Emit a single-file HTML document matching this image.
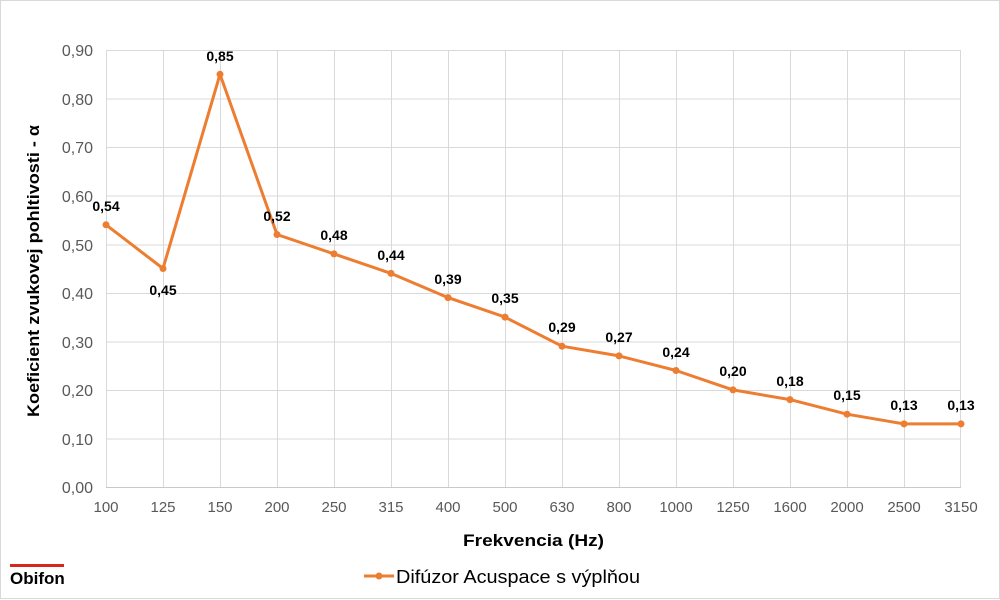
<!DOCTYPE html>
<html><head><meta charset="utf-8"><style>
body{margin:0;background:#fff}
svg{display:block;font-family:"Liberation Sans",Arial,sans-serif}
</style></head><body>
<svg width="1000" height="600" viewBox="0 0 1000 600">
<rect x="0.5" y="0.5" width="999" height="598" fill="#fff" stroke="#d9d9d9"/>
<g stroke="#d9d9d9" stroke-width="1">
<line x1="106" y1="50.5" x2="961" y2="50.5"/>
<line x1="106" y1="99" x2="961" y2="99"/>
<line x1="106" y1="147.5" x2="961" y2="147.5"/>
<line x1="106" y1="196" x2="961" y2="196"/>
<line x1="106" y1="245" x2="961" y2="245"/>
<line x1="106" y1="293.5" x2="961" y2="293.5"/>
<line x1="106" y1="342" x2="961" y2="342"/>
<line x1="106" y1="390.5" x2="961" y2="390.5"/>
<line x1="106" y1="439" x2="961" y2="439"/>
<line x1="106.5" y1="50" x2="106.5" y2="487"/>
<line x1="163.5" y1="50" x2="163.5" y2="487"/>
<line x1="220.5" y1="50" x2="220.5" y2="487"/>
<line x1="277.5" y1="50" x2="277.5" y2="487"/>
<line x1="334.5" y1="50" x2="334.5" y2="487"/>
<line x1="391.5" y1="50" x2="391.5" y2="487"/>
<line x1="448.5" y1="50" x2="448.5" y2="487"/>
<line x1="505.5" y1="50" x2="505.5" y2="487"/>
<line x1="562.5" y1="50" x2="562.5" y2="487"/>
<line x1="619.5" y1="50" x2="619.5" y2="487"/>
<line x1="676.5" y1="50" x2="676.5" y2="487"/>
<line x1="733.5" y1="50" x2="733.5" y2="487"/>
<line x1="790.5" y1="50" x2="790.5" y2="487"/>
<line x1="847.5" y1="50" x2="847.5" y2="487"/>
<line x1="904.5" y1="50" x2="904.5" y2="487"/>
<line x1="960.5" y1="50" x2="960.5" y2="487"/>
<line x1="106" y1="487.5" x2="961" y2="487.5" stroke="#c8c8c8"/>
</g>
<g font-size="16" fill="#595959" text-anchor="end">
<text x="93" y="56">0,90</text><text x="93" y="105">0,80</text><text x="93" y="153">0,70</text>
<text x="93" y="202">0,60</text><text x="93" y="251">0,50</text><text x="93" y="299">0,40</text>
<text x="93" y="348">0,30</text><text x="93" y="396">0,20</text><text x="93" y="445">0,10</text>
<text x="93" y="493">0,00</text>
</g>
<g font-size="15" fill="#595959" text-anchor="middle">
<text x="106" y="512">100</text><text x="163" y="512">125</text><text x="220" y="512">150</text>
<text x="277" y="512">200</text><text x="334" y="512">250</text><text x="391" y="512">315</text>
<text x="448" y="512">400</text><text x="505" y="512">500</text><text x="562" y="512">630</text>
<text x="619" y="512">800</text><text x="676" y="512">1000</text><text x="733" y="512">1250</text>
<text x="790" y="512">1600</text><text x="847" y="512">2000</text><text x="904" y="512">2500</text>
<text x="961" y="512">3150</text>
</g>
<text x="463" y="546" font-size="17" font-weight="bold" fill="#000" textLength="141" lengthAdjust="spacingAndGlyphs">Frekvencia (Hz)</text>
<text transform="translate(39,417) rotate(-90)" font-size="17" font-weight="bold" fill="#000" textLength="292" lengthAdjust="spacingAndGlyphs">Koeficient zvukovej pohltivosti - α</text>
<polyline fill="none" stroke="#ed7d31" stroke-width="3" stroke-linejoin="round" points="106,224.8 163,268.5 220,74.3 277,234.5 334,253.9 391,273.4 448,297.6 505,317.1 562,346.2 619,355.9 676,370.5 733,389.9 790,399.6 847,414.2 904,423.9 961,423.9"/>
<g fill="#ed7d31">
<circle cx="106" cy="224.8" r="3.5"/><circle cx="163" cy="268.5" r="3.5"/><circle cx="220" cy="74.3" r="3.5"/>
<circle cx="277" cy="234.5" r="3.5"/><circle cx="334" cy="253.9" r="3.5"/><circle cx="391" cy="273.4" r="3.5"/>
<circle cx="448" cy="297.6" r="3.5"/><circle cx="505" cy="317.1" r="3.5"/><circle cx="562" cy="346.2" r="3.5"/>
<circle cx="619" cy="355.9" r="3.5"/><circle cx="676" cy="370.5" r="3.5"/><circle cx="733" cy="389.9" r="3.5"/>
<circle cx="790" cy="399.6" r="3.5"/><circle cx="847" cy="414.2" r="3.5"/><circle cx="904" cy="423.9" r="3.5"/>
<circle cx="961" cy="423.9" r="3.5"/>
</g>
<g font-size="14" font-weight="bold" fill="#000" text-anchor="middle">
<text x="106" y="211">0,54</text><text x="163" y="295">0,45</text><text x="220" y="61">0,85</text>
<text x="277" y="221">0,52</text><text x="334" y="240">0,48</text><text x="391" y="260">0,44</text>
<text x="448" y="284">0,39</text><text x="505" y="303">0,35</text><text x="562" y="332">0,29</text>
<text x="619" y="342">0,27</text><text x="676" y="357">0,24</text><text x="733" y="376">0,20</text>
<text x="790" y="386">0,18</text><text x="847" y="400">0,15</text><text x="904" y="410">0,13</text>
<text x="961" y="410">0,13</text>
</g>
<line x1="364" y1="576" x2="394" y2="576" stroke="#ed7d31" stroke-width="3"/>
<circle cx="379" cy="576" r="3.5" fill="#ed7d31"/>
<text x="396" y="583" font-size="18" fill="#000" textLength="244" lengthAdjust="spacingAndGlyphs">Difúzor Acuspace s výplňou</text>
<rect x="10" y="564" width="54" height="3" fill="#d9261c"/>
<text x="10" y="584" font-size="17" font-weight="bold" fill="#000">Obifon</text>
</svg>
</body></html>
